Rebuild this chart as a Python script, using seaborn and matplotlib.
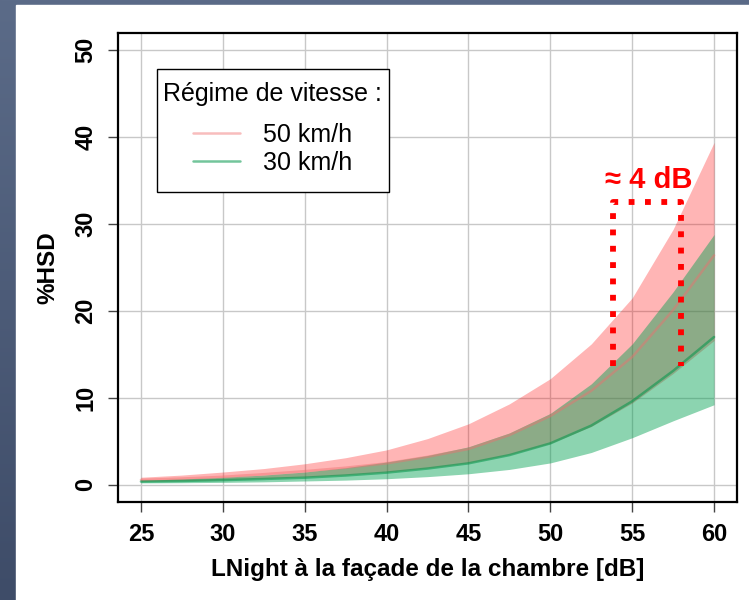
import numpy as np
import pandas as pd
import matplotlib
matplotlib.use("Agg")
import matplotlib.pyplot as plt
from matplotlib.patches import Rectangle
from matplotlib.colors import LinearSegmentedColormap
import seaborn as sns

# Night-time level at the bedroom façade (dB)
lnight = [25, 27.5, 30, 32.5, 35, 37.5, 40, 42.5, 45, 47.5, 50, 52.5, 55, 57.5, 60]

# %HSD, 50 km/h regime: estimate and confidence band
hsd_50 = [0.55, 0.7, 0.9, 1.2, 1.55, 1.95, 2.45, 3.2, 4.1, 5.7, 7.9, 10.8, 14.7, 20.1, 26.4]
hsd_50_low = [0.36, 0.44, 0.55, 0.7, 0.88, 1.12, 1.45, 1.9, 2.5, 3.45, 4.75, 6.7, 9.4, 12.8, 16.6]
hsd_50_high = [0.85, 1.1, 1.45, 1.85, 2.4, 3.1, 4.0, 5.3, 7.0, 9.3, 12.2, 16.2, 21.5, 29.4, 39.4]

# %HSD, 30 km/h regime: estimate and confidence band
hsd_30 = [0.35, 0.42, 0.52, 0.65, 0.8, 1.05, 1.38, 1.85, 2.45, 3.4, 4.75, 6.8, 9.6, 13.1, 17.0]
hsd_30_low = [0.2, 0.22, 0.26, 0.32, 0.42, 0.52, 0.68, 0.92, 1.25, 1.75, 2.5, 3.7, 5.4, 7.35, 9.2]
hsd_30_high = [0.5, 0.65, 0.85, 1.1, 1.45, 1.95, 2.6, 3.35, 4.35, 5.95, 8.2, 11.6, 16.2, 22.2, 28.8]

speeds = ["50 km/h", "30 km/h"]

# Shift annotation: equal %HSD reached 4 dB apart
shift_x = [53.8, 58.0]
shift_y = [13.7, 32.5]

n = len(lnight)
df = pd.DataFrame({
    "LNight": lnight * 2,
    "HSD": hsd_50 + hsd_30,
    "Régime": [speeds[0]] * n + [speeds[1]] * n,
})

sns.set_theme(style="white", rc={
    "text.color": "black", "axes.labelcolor": "black",
    "xtick.color": "black", "ytick.color": "black",
})
plt.rcParams["font.family"] = ["Liberation Sans", "DejaVu Sans"]

fig = plt.figure(figsize=(7.49, 6), dpi=100)

# Slide-style backdrop: blue-grey gradient framing a white panel
bg = fig.add_axes([0, 0, 1, 1], zorder=0)
cmap = LinearSegmentedColormap.from_list("bg", ["#3E4C68", "#5B6B88"])
bg.imshow(np.linspace(0, 1, 256).reshape(-1, 1), cmap=cmap, origin="lower",
          aspect="auto", extent=[0, 1, 0, 1])
bg.add_patch(Rectangle((16 / 749, 0), 1, 595 / 600, color="white", zorder=2))
bg.set_xlim(0, 1)
bg.set_ylim(0, 1)
bg.axis("off")

ax = fig.add_axes([118 / 749, 98 / 600, 619 / 749, 469 / 600], zorder=1)
ax.set_facecolor("white")

ax.fill_between(lnight, hsd_50_low, hsd_50_high, color="#FF0000", alpha=0.29, lw=0, zorder=1)
ax.fill_between(lnight, hsd_30_low, hsd_30_high, color="#00A050", alpha=0.45, lw=0, zorder=2)

sns.lineplot(data=df, x="LNight", y="HSD", hue="Régime", hue_order=speeds,
             palette={"50 km/h": "#F06E6E", "30 km/h": "#00964A"},
             lw=1.8, legend=False, ax=ax, zorder=3)
lines = ax.get_lines()[:2]
for line, a in zip(lines, [0.45, 0.55]):
    line.set_alpha(a)

# Dotted bracket showing the 4 dB shift
ax.plot([shift_x[0], shift_x[0], shift_x[1], shift_x[1]],
        [shift_y[0], shift_y[1], shift_y[1], shift_y[0]],
        color="#FF0000", lw=4.2, dashes=(1, 1.8), dash_capstyle="butt",
        solid_joinstyle="miter", zorder=4)
ax.text(56.0, 35.1, "≈ 4 dB", color="#FF0000", fontsize=21, fontweight="bold",
        ha="center", va="center", zorder=5)

ax.set_xlim(23.6, 61.4)
ax.set_ylim(-2, 52)
ax.set_xticks(range(25, 61, 5))
ax.set_yticks(range(0, 51, 10))
ax.grid(True, color="#C8C8C8", lw=1)
ax.set_axisbelow(True)

for s in ax.spines.values():
    s.set_visible(True)
    s.set_color("black")
    s.set_linewidth(1.6)

ax.tick_params(axis="both", which="major", direction="out", length=7, width=1,
               color="#444444", labelcolor="black", labelsize=17,
               bottom=True, left=True)
ax.tick_params(axis="x", pad=8)
ax.tick_params(axis="y", pad=8, labelrotation=90)
for lbl in ax.get_xticklabels() + ax.get_yticklabels():
    lbl.set_fontweight("bold")
for lbl in ax.get_yticklabels():
    lbl.set_verticalalignment("center")

ax.set_xlabel("LNight à la façade de la chambre [dB]", fontsize=17.5,
              fontweight="bold", labelpad=9)
ax.set_ylabel("%HSD", fontsize=17.5, fontweight="bold", labelpad=11)

# Legend: square white box with thin black border, title centred over entries
ax.add_patch(Rectangle((0.063, 0.661), 0.375, 0.262, transform=ax.transAxes,
                       facecolor="white", edgecolor="black", lw=1.0, zorder=6))
leg = ax.legend(lines, speeds, title="Régime de vitesse :", loc="upper left",
                bbox_to_anchor=(0.0727, 0.8955), borderaxespad=0, fontsize=18,
                title_fontsize=18, frameon=False, handlelength=1.9,
                handletextpad=0.9, labelspacing=0.18, borderpad=0)
leg.set_zorder(7)
leg._legend_box.sep = 12

fig.savefig("out.png", dpi=100)
